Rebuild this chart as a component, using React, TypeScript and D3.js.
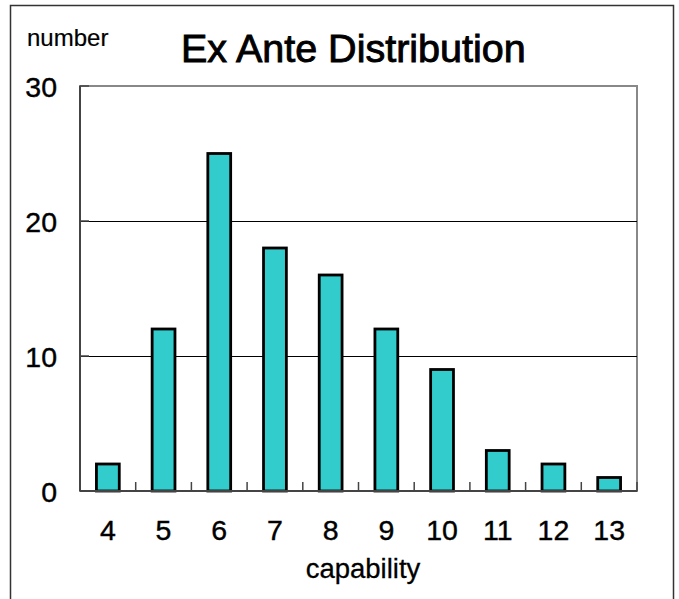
import { useEffect, useRef } from "react";
import { select, scaleLinear, scaleBand, range } from "d3";

// capability 4..13 and number of people at each level
const categories = ["4", "5", "6", "7", "8", "9", "10", "11", "12", "13"];
const counts = [2, 12, 25, 18, 16, 12, 9, 3, 2, 1];
const yTicks = [0, 10, 20, 30];

const W = 679;
const H = 599;

const DrawChart = (node: SVGSVGElement) => {
  const svg = select(node);
  svg.selectAll("*").remove();

  const left = 80,
    right = 637,
    top = 86,
    bottom = 491;
  const font = "'Liberation Sans', Arial, sans-serif";

  const y = scaleLinear([0, 30], [bottom, top]);
  const x = scaleBand(categories, [left, right])
    .paddingInner(0.59)
    .paddingOuter(0.295);

  // outer frame
  svg
    .append("rect")
    .attr("x", 10.5)
    .attr("y", 5.5)
    .attr("width", 663)
    .attr("height", 610)
    .attr("fill", "#fff")
    .attr("stroke", "#333")
    .attr("stroke-width", 1.5);

  // plot box (grey top/right)
  svg
    .append("rect")
    .attr("x", left)
    .attr("y", top)
    .attr("width", right - left)
    .attr("height", bottom - top)
    .attr("fill", "none")
    .attr("stroke", "#888")
    .attr("stroke-width", 2);

  // gridlines
  svg
    .append("g")
    .selectAll("line")
    .data(yTicks.filter((d) => d > 0 && d < 30))
    .enter()
    .append("line")
    .attr("x1", left)
    .attr("x2", right)
    .attr("y1", (d) => y(d) + 0.5)
    .attr("y2", (d) => y(d) + 0.5)
    .attr("stroke", "#000")
    .attr("stroke-width", 1)
    .attr("shape-rendering", "crispEdges");

  // bars
  svg
    .append("g")
    .selectAll("rect")
    .data(counts)
    .enter()
    .append("rect")
    .attr("x", (d, i) => x(categories[i]) as number)
    .attr("y", (d) => y(d))
    .attr("width", x.bandwidth())
    .attr("height", (d) => y(0) - y(d))
    .attr("fill", "#33CCCC")
    .attr("stroke", "#000")
    .attr("stroke-width", 2.8);

  // left axis
  svg
    .append("line")
    .attr("x1", left)
    .attr("x2", left)
    .attr("y1", top)
    .attr("y2", bottom)
    .attr("stroke", "#444")
    .attr("stroke-width", 2);
  svg
    .append("g")
    .selectAll("line")
    .data(yTicks)
    .enter()
    .append("line")
    .attr("x1", left)
    .attr("x2", left + 9)
    .attr("y1", (d) => y(d))
    .attr("y2", (d) => y(d))
    .attr("stroke", "#444")
    .attr("stroke-width", 1.5);
  svg
    .append("g")
    .selectAll("text")
    .data(yTicks)
    .enter()
    .append("text")
    .attr("x", 57)
    .attr("y", (d) => y(d) + 10.5)
    .attr("text-anchor", "end")
    .attr("font-family", font)
    .attr("font-size", 28.5)
    .attr("stroke", "#000")
    .attr("stroke-width", 0.4)
    .text((d) => d);

  // bottom axis
  svg
    .append("line")
    .attr("x1", left)
    .attr("x2", right)
    .attr("y1", bottom)
    .attr("y2", bottom)
    .attr("stroke", "#444")
    .attr("stroke-width", 2);
  const step = x.step();
  svg
    .append("g")
    .selectAll("line")
    .data(range(categories.length + 1))
    .enter()
    .append("line")
    .attr("x1", (i) => left + i * step)
    .attr("x2", (i) => left + i * step)
    .attr("y1", bottom)
    .attr("y2", bottom - 9)
    .attr("stroke", "#444")
    .attr("stroke-width", 1.5);
  svg
    .append("g")
    .selectAll("text")
    .data(categories)
    .enter()
    .append("text")
    .attr("x", (d) => (x(d) as number) + x.bandwidth() / 2)
    .attr("y", 540)
    .attr("text-anchor", "middle")
    .attr("font-family", font)
    .attr("font-size", 28.5)
    .attr("stroke", "#000")
    .attr("stroke-width", 0.4)
    .text((d) => d);

  // labels
  svg
    .append("text")
    .attr("x", 363)
    .attr("y", 578)
    .attr("text-anchor", "middle")
    .attr("font-family", font)
    .attr("font-size", 27.5)
    .attr("stroke", "#000")
    .attr("stroke-width", 0.3)
    .text("capability");
  svg
    .append("text")
    .attr("x", 27)
    .attr("y", 46)
    .attr("font-family", font)
    .attr("font-size", 24)
    .attr("stroke", "#000")
    .attr("stroke-width", 0.2)
    .text("number");
  svg
    .append("text")
    .attr("x", 181)
    .attr("y", 62)
    .attr("font-family", font)
    .attr("font-size", 39.5)
    .attr("stroke", "#000")
    .attr("stroke-width", 0.9)
    .text("Ex Ante Distribution");
};

const App = () => {
  const ref = useRef<SVGSVGElement>(null);
  useEffect(() => {
    if (ref.current) DrawChart(ref.current);
  }, []);
  return (
    <svg
      ref={ref}
      width={W}
      height={H}
      style={{ position: "absolute", left: 0, top: 0, background: "#fff" }}
    />
  );
};

export default App;
